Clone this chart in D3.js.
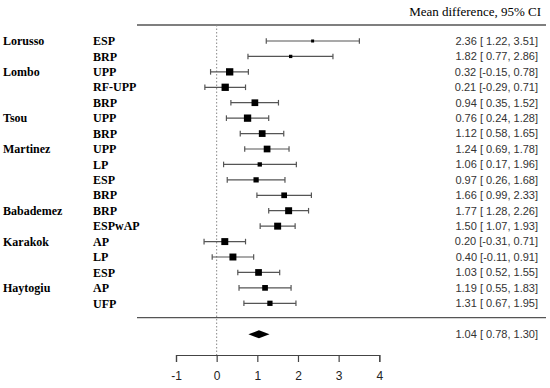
<!DOCTYPE html>
<html>
<head>
<meta charset="utf-8">
<script src="https://cdn.jsdelivr.net/npm/d3@7"></script>
<style>
  body { margin: 0; background: #fff; }
  svg { display: block; }
</style>
</head>
<body>
<svg id="chart" width="550" height="388"></svg>
<script>

// one row per comparison
var studies = ['Lorusso', '', 'Lombo', '', '', 'Tsou', '', 'Martinez', '', '', '', 'Babademez', '', 'Karakok', '', '', 'Haytogiu', ''];
var arms = ['ESP', 'BRP', 'UPP', 'RF-UPP', 'BRP', 'UPP', 'BRP', 'UPP', 'LP', 'ESP', 'BRP', 'BRP', 'ESPwAP', 'AP', 'LP', 'ESP', 'AP', 'UFP'];
var estimates = [2.36, 1.82, 0.32, 0.21, 0.94, 0.76, 1.12, 1.24, 1.06, 0.97, 1.66, 1.77, 1.50, 0.20, 0.40, 1.03, 1.19, 1.31];
var lower = [1.22, 0.77, -0.15, -0.29, 0.35, 0.24, 0.58, 0.69, 0.17, 0.26, 0.99, 1.28, 1.07, -0.31, -0.11, 0.52, 0.55, 0.67];
var upper = [3.51, 2.86, 0.78, 0.71, 1.52, 1.28, 1.65, 1.78, 1.96, 1.68, 2.33, 2.26, 1.93, 0.71, 0.91, 1.55, 1.83, 1.95];
// study weights (%)
var weights = [1.3, 1.6, 7.7, 7.7, 6.5, 7.7, 6.5, 6.5, 2.7, 4.0, 4.7, 7.0, 7.0, 7.0, 7.0, 6.5, 4.7, 4.0];

var pooled = {est: 1.04, lo: 0.78, hi: 1.30};
var xTicks = [-1, 0, 1, 2, 3, 4];
var title = 'Mean difference, 95% CI';

var svg = d3.select('#chart');

var serif = '"Liberation Serif", "DejaVu Serif", serif';
var sans = '"Liberation Sans", Arial, sans-serif';

var x = d3.scaleLinear().domain([-1, 4]).range([176, 379.3]);
var y = d3.scaleLinear().domain([0, arms.length - 1]).range([41, 303.3]);
var size = d3.scaleSqrt().domain([0, d3.max(weights)]).range([0, 7.3]);

var rows = arms.map((a, i) => ({study: studies[i], arm: a, est: estimates[i], lo: lower[i], hi: upper[i], w: weights[i], i: i}));

var fmt = v => v.toFixed(2);
var ciText = d => fmt(d.est) + ' [' + (d.lo < 0 ? '' : ' ') + fmt(d.lo) + ', ' + fmt(d.hi) + ']';

var lineTop = 25, lineMid = 317.7, axisY = 355, sumY = 334.3;

// title
svg.append('text')
   .attr('x', 541)
   .attr('y', 16)
   .attr('text-anchor', 'end')
   .attr('font-family', serif)
   .attr('font-size', 13)
   .text(title);

// separators
[lineTop, lineMid].forEach(ly => {
  svg.append('line')
     .attr('x1', 137).attr('x2', 546)
     .attr('y1', ly).attr('y2', ly)
     .attr('stroke', '#555')
     .attr('stroke-width', 1.3);
});

// reference line at zero
svg.append('line')
   .attr('x1', x(0)).attr('x2', x(0))
   .attr('y1', lineTop).attr('y2', axisY)
   .attr('stroke', '#888')
   .attr('stroke-width', 1)
   .attr('stroke-dasharray', '1.5,2');

// labels
svg.append('g')
   .selectAll('text')
   .data(rows.filter(d => d.study))
   .enter()
   .append('text')
   .attr('x', 3)
   .attr('y', d => y(d.i))
   .attr('dy', '0.35em')
   .attr('font-family', serif)
   .attr('font-weight', 'bold')
   .attr('font-size', 12)
   .text(d => d.study);

svg.append('g')
   .selectAll('text')
   .data(rows)
   .enter()
   .append('text')
   .attr('x', 93)
   .attr('y', d => y(d.i))
   .attr('dy', '0.35em')
   .attr('font-family', serif)
   .attr('font-weight', 'bold')
   .attr('font-size', 12)
   .text(d => d.arm);

// confidence intervals
var ci = svg.append('g')
            .attr('stroke', '#555')
            .attr('stroke-width', 1.2);

ci.selectAll('line.bar')
  .data(rows)
  .enter()
  .append('line')
  .attr('class', 'bar')
  .attr('x1', d => x(d.lo)).attr('x2', d => x(d.hi))
  .attr('y1', d => y(d.i)).attr('y2', d => y(d.i));

ci.selectAll('line.cap-lo')
  .data(rows)
  .enter()
  .append('line')
  .attr('class', 'cap-lo')
  .attr('x1', d => x(d.lo)).attr('x2', d => x(d.lo))
  .attr('y1', d => y(d.i) - 2.8).attr('y2', d => y(d.i) + 2.8);

ci.selectAll('line.cap-hi')
  .data(rows)
  .enter()
  .append('line')
  .attr('class', 'cap-hi')
  .attr('x1', d => x(d.hi)).attr('x2', d => x(d.hi))
  .attr('y1', d => y(d.i) - 2.8).attr('y2', d => y(d.i) + 2.8);

// squares sized by weight
svg.append('g')
   .selectAll('rect')
   .data(rows)
   .enter()
   .append('rect')
   .attr('x', d => x(d.est) - size(d.w) / 2)
   .attr('y', d => y(d.i) - size(d.w) / 2)
   .attr('width', d => size(d.w))
   .attr('height', d => size(d.w))
   .attr('fill', 'black');

// effect sizes text
svg.append('g')
   .selectAll('text')
   .data(rows)
   .enter()
   .append('text')
   .attr('x', 538)
   .attr('y', d => y(d.i))
   .attr('dy', '0.35em')
   .attr('text-anchor', 'end')
   .attr('font-family', sans)
   .attr('font-size', 11)
   .attr('fill', '#333')
   .text(ciText);

// pooled estimate
svg.append('polygon')
   .attr('points', [
     [x(pooled.lo), sumY], [x(pooled.est), sumY - 4],
     [x(pooled.hi), sumY], [x(pooled.est), sumY + 4]
   ].map(p => p.join(',')).join(' '))
   .attr('fill', 'black');

svg.append('text')
   .attr('x', 538)
   .attr('y', sumY)
   .attr('dy', '0.35em')
   .attr('text-anchor', 'end')
   .attr('font-family', sans)
   .attr('font-size', 11)
   .attr('fill', '#333')
   .text(ciText(pooled));

// x axis
var axis = svg.append('g')
              .attr('transform', 'translate(0,' + axisY + ')')
              .call(d3.axisBottom(x).tickValues(xTicks).tickFormat(d => String(d)).tickSize(7).tickPadding(9));

axis.select('.domain').attr('stroke', '#444').attr('stroke-width', 1.2);
axis.selectAll('.tick line').attr('stroke', '#444').attr('stroke-width', 1.2);
axis.selectAll('.tick text')
    .attr('font-family', sans)
    .attr('font-size', 12)
    .attr('fill', '#222');

</script>
</body>
</html>
